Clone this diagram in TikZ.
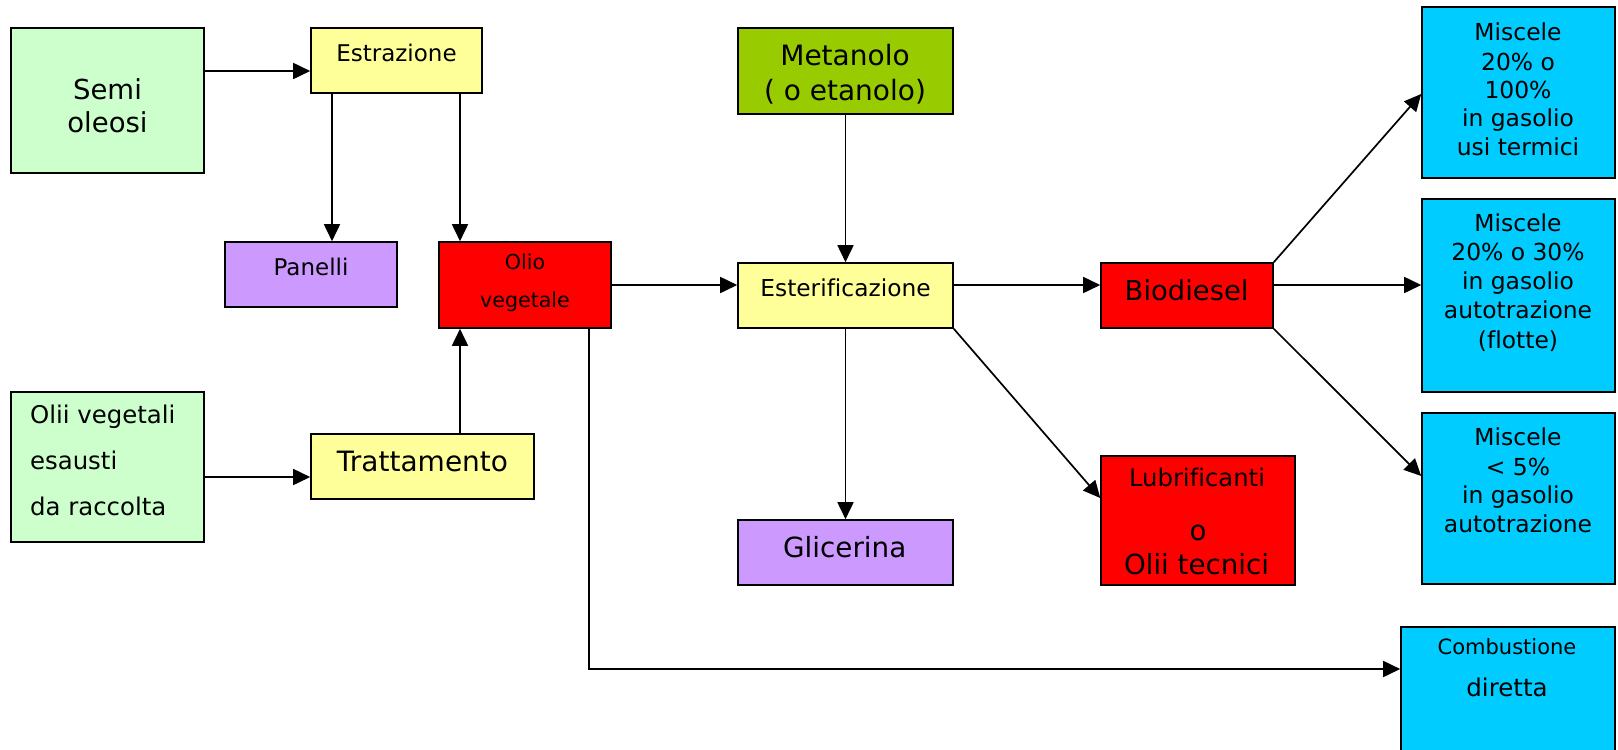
\documentclass[tikz,border=0pt]{standalone}
\usepackage{fontspec}
\setmainfont[Ligatures={NoCommon}]{DejaVu Sans}
\usetikzlibrary{arrows.meta}
\newcommand\myfs[1]{\fontsize{#1}{#1}\selectfont}
\definecolor{lgreen}{HTML}{CCFFCC}
\definecolor{lyellow}{HTML}{FFFF99}
\definecolor{lpurple}{HTML}{CC99FF}
\definecolor{ored}{HTML}{FF0000}
\definecolor{olive}{HTML}{99CC00}
\definecolor{cyanbox}{HTML}{00CCFF}
\begin{document}
\begin{tikzpicture}[x=0.5pt,y=-0.5pt,
  box/.style={draw=black, line width=0.8pt, inner sep=0pt},
  sz/.style 2 args={minimum width={#1*0.5pt}, minimum height={#2*0.5pt}},
  txt/.style={anchor=base, inner sep=0pt, font=\myfs{#1}},
  ltxt/.style={anchor=base west, inner sep=0pt, font=\myfs{#1}},
  arr/.style={-{Triangle[length=8.5pt,width=8pt]}, line width=0.85pt}]
\clip (0,0) rectangle (1618,750);
\fill[white] (0,0) rectangle (1618,750);
% boxes
\node[box, fill=lgreen, sz={193}{145}] (semi) at (107.5,100.5) {};
\node[box, fill=lyellow, sz={171}{65}] (estr) at (396.5,60.5) {};
\node[box, fill=lpurple, sz={172}{65}] (pan) at (311,274.5) {};
\node[box, fill=ored, sz={172}{86}] (olio) at (525,285) {};
\node[box, fill=lgreen, sz={193}{150}] (olii) at (107.5,467) {};
\node[box, fill=lyellow, sz={223}{65}] (tratt) at (422.5,466.5) {};
\node[box, fill=olive, sz={215}{86}] (met) at (845.5,71) {};
\node[box, fill=lyellow, sz={215}{65}] (ester) at (845.5,295.5) {};
\node[box, fill=ored, sz={172}{65}] (bio) at (1187,295.5) {};
\node[box, fill=lpurple, sz={215}{65}] (gli) at (845.5,552.5) {};
\node[box, fill=ored, sz={194}{129}] (lub) at (1198,520.5) {};
\node[box, fill=cyanbox, sz={193}{171}] (m1) at (1518.5,92.5) {};
\node[box, fill=cyanbox, sz={193}{193}] (m2) at (1518.5,295.5) {};
\node[box, fill=cyanbox, sz={193}{171}] (m3) at (1518.5,498.5) {};
\node[box, fill=cyanbox, sz={214}{143}] (comb) at (1508,698.5) {};
% texts
\node[txt=13.75pt] (t1) at (107.5,99) {Semi};
\node[txt=13.75pt] (t2) at (107.5,132) {oleosi};
\node[txt=11.5pt] (t3) at (396.5,61) {Estrazione};
\node[txt=11.5pt] (t4) at (311,275) {Panelli};
\node[txt=10.3pt] (t5) at (525,269) {Olio};
\node[txt=10.3pt] (t6) at (525,307) {vegetale};
\node[ltxt=12.2pt] (t7) at (29.7,423) {Olii vegetali};
\node[ltxt=12.2pt] (t8) at (29.7,469) {esausti};
\node[ltxt=12.2pt] (t9) at (29.7,515) {da raccolta};
\node[txt=14pt] (t10) at (422.5,471.7) {Trattamento};
\node[txt=14pt] (t11) at (845,65.7) {Metanolo};
\node[txt=14pt] (t12) at (845,100) {( o etanolo)};
\node[txt=11.65pt] (t13) at (845.5,296.7) {Esterificazione};
\node[txt=13.7pt] (t14) at (1186.6,300) {Biodiesel};
\node[txt=13.9pt] (t15) at (844.7,557.3) {Glicerina};
\node[txt=12.15pt] (t16) at (1197,486.7) {Lubrificanti};
\node[txt=13.85pt] (t17) at (1198,540) {o};
\node[txt=13.85pt] (t18) at (1196.5,574) {Olii tecnici};
\node[txt=11.7pt] (t19) at (1518,40) {Miscele};
\node[txt=11.7pt] (t20) at (1518,70) {20\% o};
\node[txt=11.7pt] (t21) at (1518,98.3) {100\%};
\node[txt=11.7pt] (t22) at (1518,126.7) {in gasolio};
\node[txt=11.7pt] (t23) at (1518,155) {usi termici};
\node[txt=11.7pt] (t24) at (1518,231.7) {Miscele};
\node[txt=11.7pt] (t25) at (1518,260) {20\% o 30\%};
\node[txt=11.7pt] (t26) at (1518,289.3) {in gasolio};
\node[txt=11.7pt] (t27) at (1518,318.3) {autotrazione};
\node[txt=11.7pt] (t28) at (1518,348.3) {(flotte)};
\node[txt=11.7pt] (t29) at (1518,445.7) {Miscele};
\node[txt=11.7pt] (t30) at (1518,475) {< 5\%};
\node[txt=11.7pt] (t31) at (1518,503.3) {in gasolio};
\node[txt=11.7pt] (t32) at (1518,532.3) {autotrazione};
\node[txt=10.5pt] (t33) at (1507,654) {Combustione};
\node[txt=12.25pt] (t34) at (1507,696) {diretta};
% connectors
\draw[arr] ([yshift=14.75pt]semi.east) -- ([yshift=-5.25pt]estr.west);
\draw[arr] ([xshift=-32.25pt]estr.south) -- ([xshift=10.5pt]pan.north);
\draw[arr] ([xshift=31.75pt]estr.south) -- ([xshift=-32.5pt]olio.north);
\draw[arr] ([yshift=-5pt]olii.east) -- ([yshift=-5.25pt]tratt.west);
\draw[arr] ([xshift=18.75pt]tratt.north) -- ([xshift=-32.5pt]olio.south);
\draw[arr] (olio.east) -- ([yshift=5.25pt]ester.west);
\draw[arr] (met.south) -- (ester.north);
\draw[arr] ([yshift=5.25pt]ester.east) -- ([yshift=5.25pt]bio.west);
\draw[arr] (ester.south) -- (gli.north);
\draw[arr] (ester.south east) -- ([yshift=11.25pt]lub.west);
\draw[arr] (bio.north east) -- ([yshift=-0.75pt]m1.west);
\draw[arr] ([yshift=5.25pt]bio.east) -- ([yshift=5.25pt]m2.west);
\draw[arr] (bio.south east) -- ([yshift=11.25pt]m3.west);
\draw[arr] ([xshift=32pt]olio.south) |- ([yshift=14.75pt]comb.west);
\end{tikzpicture}
\end{document}
